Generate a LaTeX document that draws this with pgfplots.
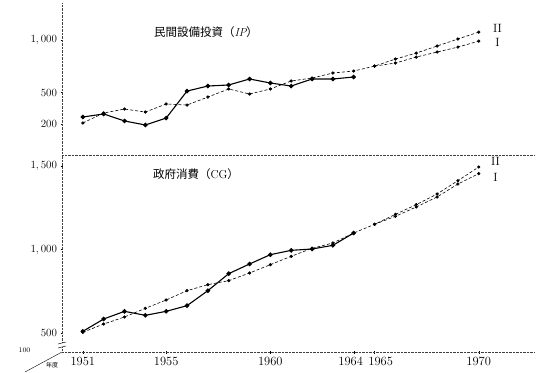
\documentclass[border=0pt]{standalone}
\usepackage{pgfplots}
\pgfplotsset{compat=1.18}
\usepackage{fontspec}
\newfontfamily\cjk{Noto Sans CJK JP}
\begin{document}
\begin{tikzpicture}
\useasboundingbox (0pt,0pt) rectangle (540pt,372pt);
\pgfplotsset{
  common/.style={
    scale only axis, width=473pt, clip=false,
    xmin=1950, xmax=1972.7,
    axis x line*=bottom, axis y line*=left,
    axis line style={-, densely dotted, black!75},
    tick style={black, thin}, major tick length=3pt, tick align=center,
    tick label style={font=\fontsize{11}{12}\selectfont},
    /pgf/number format/assume math mode=true,
  },
  act/.style={black, line width=1.1pt, mark=*, mark size=1.7pt},
  fit/.style={black, line width=0.6pt, dash pattern=on 3pt off 2pt, mark=*, mark size=1.3pt, mark options={solid}},
}
% ---------- top panel ----------
\begin{axis}[common, at={(62pt,217pt)}, anchor=south west, height=152pt,
  ymin=-95, ymax=1353, ytick={200,500,1000}, yticklabels={200,500,{1,\,000}},
  xtick=\empty]
\addplot[fit] coordinates {(1951,210)(1952,305)(1953,343)(1954,314)(1955,391)(1956,381)(1957,457)(1958,534)(1959,486)(1960,534)(1961,610)(1962,638)(1963,686)(1964,705)(1965,752)(1966,819)(1967,876)(1968,943)(1969,1010)(1970,1076)};
\addplot[fit] coordinates {(1965,752)(1966,781)(1967,838)(1968,886)(1969,933)(1970,990)};
\addplot[act] coordinates {(1951,267)(1952,296)(1953,229)(1954,191)(1955,257)(1956,514)(1957,562)(1958,572)(1959,629)(1960,591)(1961,562)(1962,629)(1963,629)(1964,648)};
\node[font=\fontsize{12}{12}\selectfont] at (axis cs:1970.9,1114) {II};
\node[font=\fontsize{12}{12}\selectfont] at (axis cs:1970.9,981) {I};
\end{axis}
% ---------- bottom panel ----------
\begin{axis}[common, at={(62pt,20pt)}, anchor=south west, height=197pt,
  ymin=386, ymax=1568, ytick={500,1000,1500}, yticklabels={500,{1,\,000},{1,\,500}},
  xtick={1951,1955,1960,1964,1965,1970},
  xticklabels={1951,1955,1960,{1964\phantom{0}},{\phantom{00}1965},1970},
  xticklabel style={font=\fontsize{12.5}{14}\selectfont}]
\addplot[fit] coordinates {(1951,504)(1952,554)(1953,596)(1954,648)(1955,698)(1956,754)(1957,790)(1958,814)(1959,860)(1960,910)(1961,960)(1962,1008)(1963,1040)(1964,1100)(1965,1152)(1966,1212)(1967,1270)(1968,1334)(1969,1414)(1970,1496)};
\addplot[fit] coordinates {(1965,1152)(1966,1200)(1967,1256)(1968,1316)(1969,1394)(1970,1456)};
\addplot[act] coordinates {(1951,510)(1952,584)(1953,630)(1954,606)(1955,630)(1956,664)(1957,754)(1958,856)(1959,914)(1960,970)(1961,996)(1962,1004)(1963,1026)(1964,1100)};
\node[font=\fontsize{12}{12}\selectfont] at (axis cs:1970.8,1528) {II};
\node[font=\fontsize{12}{12}\selectfont] at (axis cs:1970.8,1436) {I};
\end{axis}
% titles
\node[font=\fontsize{11.5}{13}\selectfont] at (206pt,340pt) {{\cjk 民間設備投資（}{\itshape IP}{\cjk ）}};
\node[font=\fontsize{11.5}{13}\selectfont] at (196pt,198pt) {{\cjk 政府消費（}CG{\cjk ）}};
% corner decoration and axis break
\draw[thin] (25pt,0pt) -- (62pt,20pt);
\node[font=\fontsize{7}{8}\selectfont, anchor=east] at (34pt,22pt) {100};
\node[font=\cjk\fontsize{6}{7}\selectfont] at (52pt,7pt) {年度};
\fill[white] (58pt,25pt) rectangle (66pt,29pt);
\draw[thin] (58pt,24pt) -- (66pt,26pt) (58pt,28pt) -- (66pt,30pt);
\end{tikzpicture}
\end{document}
